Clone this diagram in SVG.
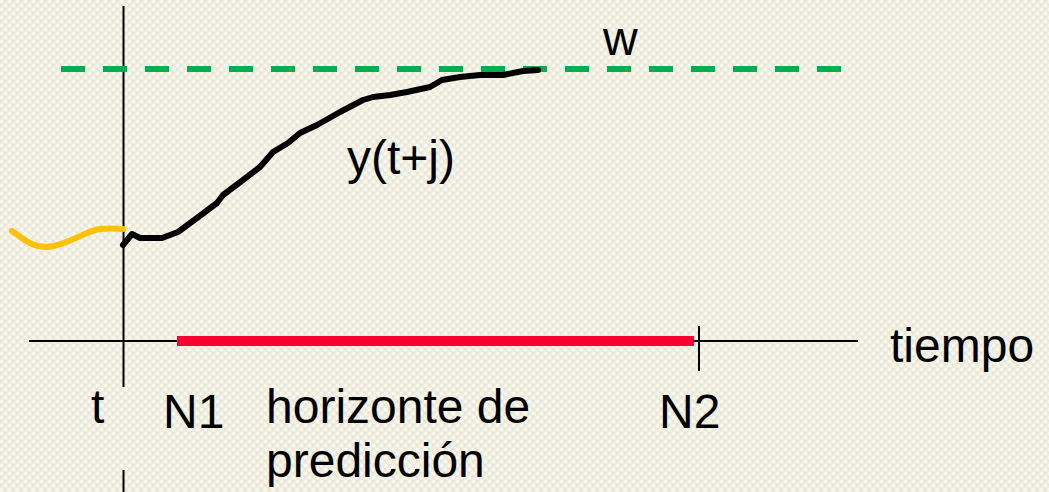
<svg xmlns="http://www.w3.org/2000/svg" width="1049" height="492" viewBox="0 0 1049 492">
<style>
.lbl{font-family:"Liberation Sans",Arial,sans-serif;font-size:48px;fill:#000}
.axis{stroke:#000;stroke-width:2;fill:none}
</style>
<defs>
<pattern id="tex" width="8" height="8" patternUnits="userSpaceOnUse">
<rect width="8" height="8" fill="#EFEEE0"/>
<rect x="0" y="0" width="3" height="3" fill="#F8F8EC"/>
<rect x="4" y="4" width="3" height="3" fill="#F8F8EC"/>
<rect x="4" y="0" width="2" height="2" fill="#E6E5D5"/>
<rect x="0" y="4" width="2" height="2" fill="#E6E5D5"/>
</pattern>
</defs>
<rect width="1049" height="492" fill="url(#tex)"/>
<g id="axes">
<line class="axis" x1="123.5" y1="6" x2="123.5" y2="387"/>
<line class="axis" x1="123.5" y1="470" x2="123.5" y2="492"/>
<line class="axis" x1="29" y1="341" x2="858" y2="341"/>
<line class="axis" x1="699" y1="326" x2="699" y2="371"/>
</g>
<g id="setpoint">
<line x1="61" y1="69" x2="841" y2="69" stroke="#00B050" stroke-width="6" stroke-dasharray="24 18"/>
</g>
<g id="horizon">
<line x1="177" y1="341" x2="694" y2="341" stroke="#F80030" stroke-width="10"/>
</g>
<g id="past">
<path d="M12,231 C25,240 33,248 48,247 C68,245 85,231 100,229 C110,228 118,229 123,229" fill="none" stroke="#FFC000" stroke-width="6" stroke-linecap="round"/>
</g>
<g id="prediction">
<path d="M123,245 L132,234 L140,238 L162,238 L178,232 L197,218 L217,203 L223,195 L243,180 L260,167 L273,152 L288,143 L300,133 L317,125 L340,112 L363,100 L373,97 L390,95 L407,92 L430,87 L442,80 L460,77 L480,75 L503,75 L523,71 L538,70" fill="none" stroke="#000" stroke-width="6" stroke-linejoin="round" stroke-linecap="round"/>
</g>
<g id="labels">
<text class="lbl" x="603" y="55">w</text>
<text class="lbl" x="347" y="174">y(t+j)</text>
<text class="lbl" x="890" y="362">tiempo</text>
<text class="lbl" x="91" y="423">t</text>
<text class="lbl" x="163" y="428">N1</text>
<text class="lbl" x="659" y="428">N2</text>
<text class="lbl" x="266" y="423">horizonte de</text>
<text class="lbl" x="266" y="477">predicción</text>
</g>
</svg>
